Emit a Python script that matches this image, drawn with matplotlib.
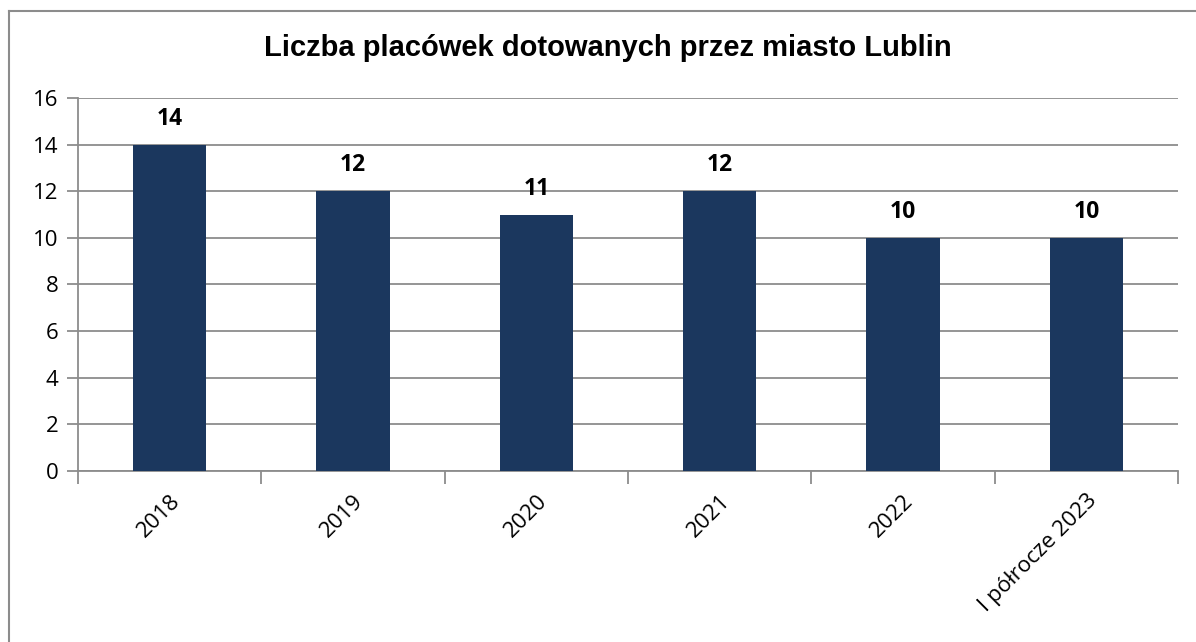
import matplotlib.pyplot as plt
from matplotlib.lines import Line2D

categories = ["2018", "2019", "2020", "2021", "2022", "I półrocze 2023"]
counts = [14, 12, 11, 12, 10, 10]

bar_color = "#1b375e"
grid_color = "#8c8c8c"

fig = plt.figure(figsize=(11.96, 6.42), dpi=100)
ax = fig.add_axes([0.0652, 0.2664, 0.9198, 0.581])

x = list(range(len(categories)))
ax.bar(x, counts, width=0.4, color=bar_color, zorder=3)

for xi, v in zip(x, counts):
    ax.text(xi, v + 0.6, str(v), ha="center", va="bottom",
            fontsize=16.5, fontweight="bold", family="Open Sans")

ax.set_xlim(-0.5, len(categories) - 0.5)
ax.set_ylim(0, 16)
ax.set_yticks(range(0, 17, 2))
ax.yaxis.grid(True, color=grid_color, linewidth=1.3, zorder=0)

for side in ["top", "right"]:
    ax.spines[side].set_visible(False)
for side in ["left", "bottom"]:
    ax.spines[side].set_color(grid_color)
    ax.spines[side].set_linewidth(1.3)

ax.tick_params(axis="y", length=8, width=1.3, color=grid_color,
               labelsize=16, pad=6)
for lbl in ax.get_yticklabels():
    lbl.set_family("Open Sans")

# category boundary ticks on the x axis
ax.set_xticks([i - 0.5 for i in range(len(categories) + 1)], minor=True)
ax.tick_params(axis="x", which="minor", length=9, width=1.3, color=grid_color)
ax.set_xticks(x)
ax.set_xticklabels(categories, rotation=45, ha="right", rotation_mode="anchor",
                   fontsize=16, family="Open Sans")
ax.tick_params(axis="x", which="major", length=0, pad=14)

fig.text(0.508, 0.925, "Liczba placówek dotowanych przez miasto Lublin",
         ha="center", va="center", fontsize=21, fontweight="bold",
         family="Liberation Sans")

# outer chart frame (left and top edges visible)
x0, y0 = 9 / 1196, 1 - 11 / 642
fig.add_artist(Line2D([x0, x0], [0, y0], transform=fig.transFigure,
                      color=grid_color, linewidth=1.5))
fig.add_artist(Line2D([x0, 1], [y0, y0], transform=fig.transFigure,
                      color=grid_color, linewidth=1.5))

fig.savefig("out.png", dpi=100)
